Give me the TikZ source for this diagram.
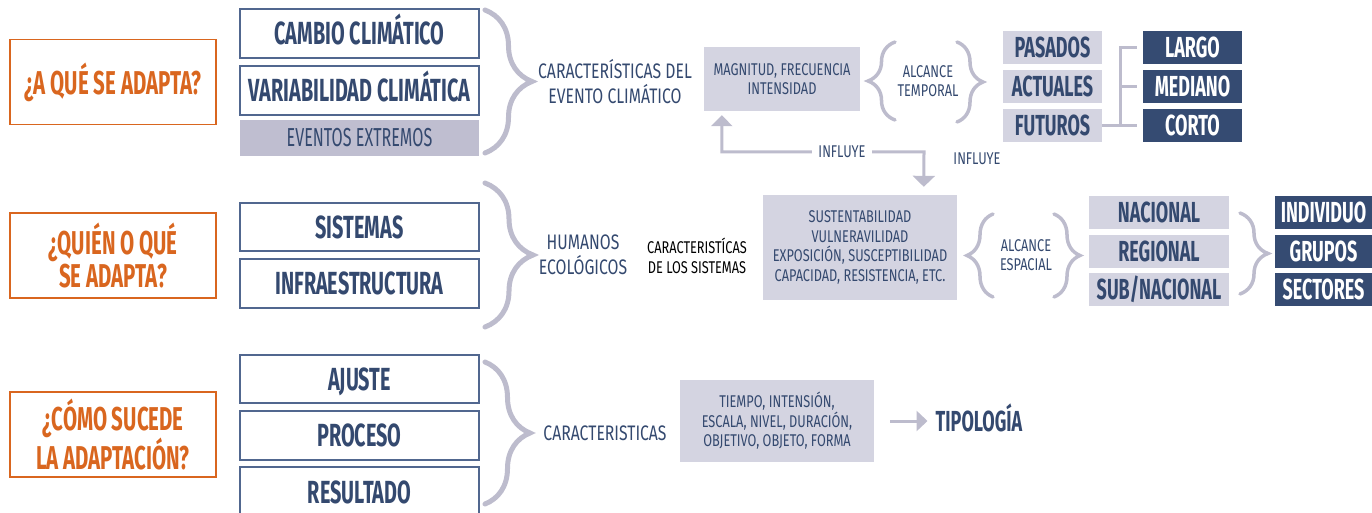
\documentclass[tikz,border=0pt]{standalone}
\usepackage{fontspec}
\setmainfont{Fira Sans}
\newfontfamily\fB[FakeStretch=0.62]{Fira Sans}
\newfontfamily\fR[FakeStretch=0.75]{Fira Sans}
\newfontfamily\fN[FakeStretch=0.62]{Fira Sans}
\usetikzlibrary{arrows.meta,decorations.pathreplacing}
\definecolor{qcol}{HTML}{D9661F}
\definecolor{navy}{HTML}{34496F}
\definecolor{bdr}{HTML}{51678F}
\definecolor{lfill}{HTML}{D4D4E1}
\definecolor{efill}{HTML}{BFBED0}
\definecolor{gcol}{HTML}{BDBCCD}
\definecolor{dfill}{HTML}{354B72}
\tikzset{
  qbox/.style={draw=qcol, line width=1.5pt, minimum width=206pt, minimum height=85pt, text=qcol, align=center,
    font={\fB\bfseries\fontsize{33pt}{33pt}\selectfont}},
  bbox/.style={draw=bdr, line width=1.5pt, minimum width=239pt, text=navy, text height=22pt, text depth=0pt,
    font={\fB\bfseries\fontsize{32pt}{32pt}\selectfont}},
  ebox/.style={fill=efill, minimum width=239pt, minimum height=36pt, text=navy, text height=18pt, text depth=0pt,
    font={\fN\fontsize{26pt}{26pt}\selectfont}},
  thin/.style={text=navy, align=center, inner sep=0pt, font={\fR\fontsize{21pt}{25pt}\selectfont}},
  small/.style={text=navy, align=center, inner sep=0pt, font={\fR\fontsize{17pt}{19.5pt}\selectfont}},
  lbox/.style={fill=lfill, text=navy, align=center, font={\fR\fontsize{17pt}{19.5pt}\selectfont}},
  pbox/.style={fill=lfill, minimum height=33pt, text=navy, text height=20pt, text depth=0pt,
    font={\fB\bfseries\fontsize{29pt}{29pt}\selectfont}},
  dbox/.style={fill=dfill, minimum height=33pt, text=white, text height=20pt, text depth=0pt,
    font={\fB\bfseries\fontsize{29pt}{29pt}\selectfont}},
  bigbrace/.style={draw=gcol, line width=5pt, line cap=round, decorate, decoration={brace, amplitude=#1}},
  smallbrace/.style={draw=gcol, line width=3.5pt, line cap=round, decorate, decoration={brace, amplitude=#1}},
  conn/.style={draw=gcol, line width=3pt},
}
\begin{document}
\begin{tikzpicture}[x=1pt,y=-1pt]
\useasboundingbox (0,0) rectangle (1372,513);
% questions
\node[qbox] (q1) at (113,82) {¿A QUÉ SE ADAPTA?};
\node[qbox] (q2) at (113,255.5) {¿QUIÉN O QUÉ\\SE ADAPTA?};
\node[qbox] (q3) at (113,434.5) {¿CÓMO SUCEDE\\LA ADAPTACIÓN?};
% outlined boxes
\node[bbox, minimum height=49pt] (cc) at (359.5,33.5) {CAMBIO CLIMÁTICO};
\node[bbox, minimum height=49pt] (vc) at (359.5,90.5) {VARIABILIDAD CLIMÁTICA};
\node[ebox] (ee) at (359.5,138) {EVENTOS EXTREMOS};
\node[bbox, minimum height=48pt] (sis) at (359.5,227) {SISTEMAS};
\node[bbox, minimum height=49pt] (inf) at (359.5,283.5) {INFRAESTRUCTURA};
\node[bbox, minimum height=48pt] (aj) at (359.5,379) {AJUSTE};
\node[bbox, minimum height=49pt] (pr) at (359.5,435.5) {PROCESO};
\node[bbox, minimum height=50pt] (re) at (359.5,492) {RESULTADO};
% big braces
\draw[bigbrace=47pt] (485,10) -- (485,153);
\draw[bigbrace=48pt] (485,183) -- (485,327);
\draw[bigbrace=45pt] (485,362) -- (485,504);
% row 1
\node[thin] (car1) at (615,82) {CARACTERÍSTICAS DEL\\EVENTO CLIMÁTICO};
\node[lbox, minimum width=156pt, minimum height=64pt] (mag) at (782,79) {MAGNITUD, FRECUENCIA\\INTENSIDAD};
\draw[smallbrace=27pt] (895,120) -- (895,42);
\node[small] (alt) at (928,81) {ALCANCE\\TEMPORAL};
\draw[smallbrace=26pt] (957,42) -- (957,122);
\node[pbox, minimum width=99pt] (pas) at (1052.5,47.5) {PASADOS};
\node[pbox, minimum width=99pt] (act) at (1052.5,86.5) {ACTUALES};
\node[pbox, minimum width=99pt] (fut) at (1052.5,125.5) {FUTUROS};
\node[dbox, minimum width=99pt] (lar) at (1192.5,47.5) {LARGO};
\node[dbox, minimum width=99pt] (med) at (1192.5,86.5) {MEDIANO};
\node[dbox, minimum width=99pt] (cor) at (1192.5,125.5) {CORTO};
\coordinate (j) at (1120,125.5);
\draw[conn] (fut.east) -- ([xshift=-6pt]cor.west);
\draw[conn] ([xshift=-6pt]lar.west) -| (j);
\draw[conn] (j |- med.west) -- ([xshift=-6pt]med.west);
% row 2
\node[thin] (hum) at (583,255) {HUMANOS\\ECOLÓGICOS};
\node[small, text=black] (csis) at (697,256) {CARACTERISTÍCAS\\DE LOS SISTEMAS};
\node[lbox, minimum width=194pt, minimum height=105pt] (sus) at (860,247.5) {SUSTENTABILIDAD\\VULNERAVILIDAD\\EXPOSICIÓN, SUSCEPTIBILIDAD\\CAPACIDAD, RESISTENCIA, ETC.};
\draw[smallbrace=26pt] (993,297) -- (993,214);
\node[small] (ale) at (1026,255) {ALCANCE\\ESPACIAL};
\draw[smallbrace=26pt] (1054,214) -- (1054,297);
\node[pbox, minimum width=140pt] (nac) at (1159,212.5) {NACIONAL};
\node[pbox, minimum width=140pt] (reg) at (1159,251.5) {REGIONAL};
\node[pbox, minimum width=140pt] (sub) at (1159,289.5) {SUB/NACIONAL};
\draw[smallbrace=28pt] (1240,213) -- (1240,294);
\node[dbox, minimum width=97pt] (ind) at (1323.5,212.5) {INDIVIDUO};
\node[dbox, minimum width=97pt] (gru) at (1323.5,251.5) {GRUPOS};
\node[dbox, minimum width=97pt] (sec) at (1323.5,289.5) {SECTORES};
% influye
\coordinate (i1) at ([xshift=18pt,yshift=-4pt]mag.south west);
\coordinate (i2) at ([xshift=161pt,yshift=8pt]sus.north west);
\coordinate (ih) at (924,152);
\draw[conn, {Triangle[width=21pt,length=11pt]}-{Triangle[width=22pt,length=11pt]}] (i1) |- (ih) -- (i2);
\node[small, fill=white, inner xsep=6pt, inner ysep=2pt] (inf1) at (842,152) {INFLUYE};
\node[small] (inf2) at (977,159) {INFLUYE};
% row 3
\node[thin] (car3) at (605,433) {CARACTERISTICAS};
\node[lbox, minimum width=194pt, minimum height=82pt] (tie) at (777,421) {TIEMPO, INTENSIÓN,\\ESCALA, NIVEL, DURACIÓN,\\OBJETIVO, OBJETO, FORMA};
\node[text=navy, inner sep=0pt, text height=20pt, text depth=0pt, font={\fB\bfseries\fontsize{29pt}{29pt}\selectfont}] (tip) at (979,421) {TIPOLOGÍA};
\draw[conn, -{Triangle[width=20pt,length=11pt]}] ([xshift=16pt]tie.east) -- ([xshift=-8pt]tip.west);
\end{tikzpicture}
\end{document}
